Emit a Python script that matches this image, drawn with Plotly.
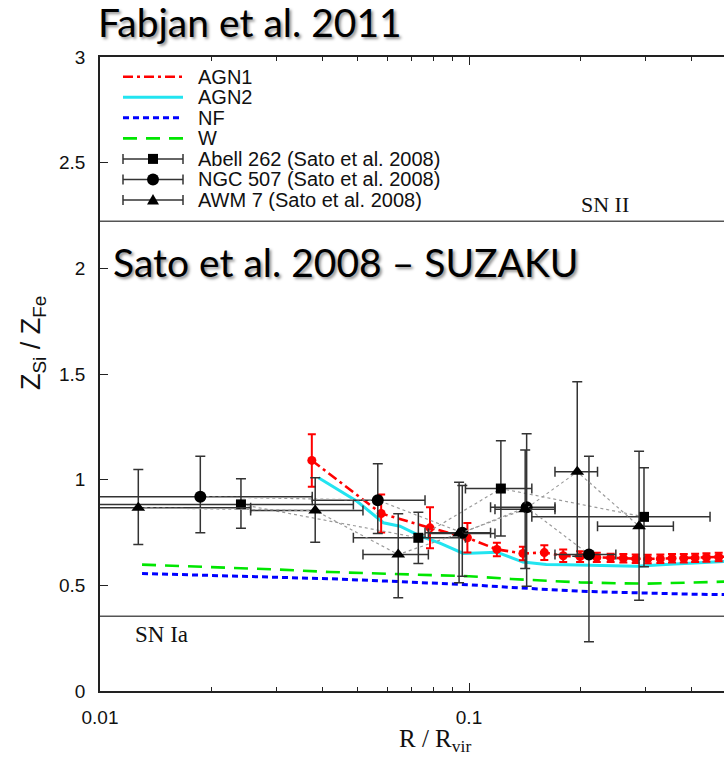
import plotly.graph_objects as go

# ---------------- data ----------------
# Abell 262 (Sato et al. 2008)  - squares
abell_x = [0.0241, 0.0729, 0.122, 0.298]
abell_y = [0.883, 0.725, 0.958, 0.824]
abell_ylo = [0.770, 0.603, 0.733, 0.588]
abell_yhi = [1.004, 0.846, 1.184, 1.056]
abell_xlo = [0.004, 0.0486, 0.0978, 0.148]
abell_xhi = [0.0486, 0.0978, 0.148, 0.450]

# NGC 507 (Sato et al. 2008) - circles
ngc_x = [0.0187, 0.0566, 0.0959, 0.1433, 0.2114]
ngc_y = [0.919, 0.903, 0.749, 0.870, 0.646]
ngc_ylo = [0.749, 0.745, 0.543, 0.496, 0.233]
ngc_yhi = [1.111, 1.075, 0.972, 1.217, 1.111]
ngc_xlo = [0.004, 0.0376, 0.076, 0.1144, 0.171]
ngc_xhi = [0.0376, 0.076, 0.1144, 0.171, 0.250]

# AWM 7 (Sato et al. 2008) - triangles
awm_x = [0.0127, 0.0383, 0.0643, 0.094, 0.142, 0.1965, 0.289]
awm_y = [0.867, 0.854, 0.646, 0.745, 0.860, 1.037, 0.780]
awm_ylo = [0.693, 0.704, 0.441, 0.512, 0.580, 0.638, 0.430]
awm_yhi = [1.048, 1.009, 0.839, 0.988, 1.140, 1.463, 1.135]
awm_xlo = [0.004, 0.0256, 0.0516, 0.0776, 0.1176, 0.171, 0.223]
awm_xhi = [0.0256, 0.0516, 0.0776, 0.1176, 0.171, 0.223, 0.358]

# AGN1 simulation (red, with error bars)
agn1_x = [0.0375, 0.0578, 0.0784, 0.0990, 0.119, 0.140, 0.160, 0.180, 0.200, 0.222,
          0.242, 0.262, 0.283, 0.305, 0.330, 0.355, 0.382, 0.410, 0.440, 0.475, 0.510]
agn1_y = [1.091, 0.840, 0.772, 0.725, 0.670, 0.651, 0.655, 0.640, 0.636, 0.632,
          0.630, 0.628, 0.626, 0.625, 0.626, 0.628, 0.628, 0.630, 0.632, 0.634, 0.637]
agn1_err = [0.124, 0.090, 0.097, 0.070, 0.032, 0.032, 0.035, 0.030, 0.025, 0.022,
            0.020, 0.020, 0.020, 0.020, 0.020, 0.020, 0.020, 0.020, 0.020, 0.020, 0.020]

# AGN2 simulation (cyan)
agn2_x = [0.0391, 0.0497, 0.0586, 0.065, 0.0738, 0.0834, 0.0965, 0.119, 0.140, 0.162,
          0.184, 0.220, 0.285, 0.350, 0.420, 0.490, 0.550]
agn2_y = [1.009, 0.898, 0.796, 0.780, 0.733, 0.700, 0.651, 0.657, 0.610, 0.599,
          0.597, 0.595, 0.590, 0.600, 0.608, 0.614, 0.617]

# NF and W simulations
model_x = [0.013, 0.02, 0.03, 0.042, 0.06, 0.08, 0.10, 0.13, 0.166, 0.20, 0.25, 0.30, 0.40, 0.55]
nf_y = [0.556, 0.548, 0.540, 0.531, 0.520, 0.510, 0.503, 0.490, 0.480, 0.472, 0.467, 0.463, 0.458, 0.455]
w_y = [0.598, 0.588, 0.575, 0.563, 0.555, 0.548, 0.543, 0.530, 0.520, 0.514, 0.510, 0.508, 0.513, 0.520]

# reference ratios
sn2_ratio = 2.223
sn1a_ratio = 0.354

y_ticks = [0, 0.5, 1, 1.5, 2, 2.5, 3]
y_ticktext = ["0", "0.5", "1", "1.5", "2", "2.5", "3"]
x_ticks = [0.01, 0.1]
x_ticktext = ["0.01", "0.1"]
x_minor = [0.02, 0.03, 0.04, 0.05, 0.06, 0.07, 0.08, 0.09, 0.2, 0.3, 0.4, 0.5]

legend_labels = ["AGN1", "AGN2", "NF", "W", "Abell 262 (Sato et al. 2008)",
                 "NGC 507 (Sato et al. 2008)", "AWM 7 (Sato et al. 2008)"]

# ---------------- layout geometry ----------------
W, H = 724, 760
ML, MT, MB = 100, 57, 69
PW, PH = W - ML, H - MT - MB
XR = [-2, -2 + PW / 369.0]


def px(x):
    return (x - ML) / PW


def py(y):
    return (H - MB - y) / PH


RED = "#ff0000"
CYAN = "#22e4f0"
BLUE = "#0000ff"
GREEN = "#00e600"
ERR = "#333333"
SANS = "Liberation Sans, Arial, sans-serif"
SERIF = "Liberation Serif, Times New Roman, serif"

fig = go.Figure()

fig.add_trace(go.Scatter(x=model_x, y=w_y, mode="lines",
                         line=dict(color=GREEN, width=2.6, dash="14px,9px")))
fig.add_trace(go.Scatter(x=model_x, y=nf_y, mode="lines",
                         line=dict(color=BLUE, width=3, dash="6px,4px")))
fig.add_trace(go.Scatter(x=agn2_x, y=agn2_y, mode="lines",
                         line=dict(color=CYAN, width=3)))
fig.add_trace(go.Scatter(x=agn1_x, y=agn1_y, mode="lines+markers",
                         line=dict(color=RED, width=2.6, dash="10px,4px,3px,4px"),
                         marker=dict(color=RED, size=9, symbol="circle"),
                         error_y=dict(type="data", array=agn1_err, color=RED,
                                      thickness=2, width=4)))


def obs_trace(xs, ys, ylo, yhi, xlo, xhi, symbol, size):
    return go.Scatter(
        x=xs, y=ys, mode="lines+markers",
        line=dict(color="#9a9a9a", width=1.2, dash="dot"),
        marker=dict(color="black", size=size, symbol=symbol),
        error_y=dict(type="data", symmetric=False,
                     array=[h - v for h, v in zip(yhi, ys)],
                     arrayminus=[v - l for l, v in zip(ylo, ys)],
                     color=ERR, thickness=1.5, width=5),
        error_x=dict(type="data", symmetric=False,
                     array=[h - v for h, v in zip(xhi, xs)],
                     arrayminus=[v - l for l, v in zip(xlo, xs)],
                     color=ERR, thickness=1.5, width=5),
    )


fig.add_trace(obs_trace(abell_x, abell_y, abell_ylo, abell_yhi, abell_xlo, abell_xhi, "square", 10))
fig.add_trace(obs_trace(ngc_x, ngc_y, ngc_ylo, ngc_yhi, ngc_xlo, ngc_xhi, "circle", 12))
fig.add_trace(obs_trace(awm_x, awm_y, awm_ylo, awm_yhi, awm_xlo, awm_xhi, "triangle-up", 12))

shapes = []
annotations = []

# SN reference lines
for v in (sn2_ratio, sn1a_ratio):
    shapes.append(dict(type="line", xref="paper", yref="y", x0=0, x1=1, y0=v, y1=v,
                       line=dict(color="#555555", width=1.6), layer="below"))

# manual legend
row_y = [76.7 + 20.55 * i for i in range(7)]
lx0, lx1, lxm, ltx = 123, 183, 153, 196
line_styles = [
    dict(color=RED, width=2.6, dash="10px,4px,3px,4px"),
    dict(color=CYAN, width=3),
    dict(color=BLUE, width=3, dash="6px,4px"),
    dict(color=GREEN, width=2.6, dash="14px,9px"),
]
for i, ry in enumerate(row_y):
    if i < 4:
        shapes.append(dict(type="line", xref="paper", yref="paper",
                           x0=px(lx0), x1=px(lx1), y0=py(ry), y1=py(ry), line=line_styles[i]))
    else:
        shapes.append(dict(type="line", xref="paper", yref="paper",
                           x0=px(lx0), x1=px(lx1), y0=py(ry), y1=py(ry),
                           line=dict(color=ERR, width=1.5)))
        for cx in (lx0, lx1):
            shapes.append(dict(type="line", xref="paper", yref="paper",
                               x0=px(cx), x1=px(cx), y0=py(ry - 5), y1=py(ry + 5),
                               line=dict(color=ERR, width=1.5)))
        base = dict(xref="paper", yref="paper", xsizemode="pixel", ysizemode="pixel",
                    xanchor=px(lxm), yanchor=py(ry), fillcolor="black",
                    line=dict(width=0))
        if i == 4:
            shapes.append(dict(type="rect", x0=-5, x1=5, y0=-5, y1=5, **base))
        elif i == 5:
            shapes.append(dict(type="circle", x0=-6, x1=6, y0=-6, y1=6, **base))
        else:
            shapes.append(dict(type="path", path="M-6,-4.5 L6,-4.5 L0,6 Z", **base))
    annotations.append(dict(text=legend_labels[i], xref="paper", yref="paper",
                            x=px(ltx), y=py(ry), xanchor="left", yanchor="middle",
                            showarrow=False, font=dict(family=SANS, size=20, color="#111")))

# texts
shadow = "2px 2px 3px rgba(0,0,0,0.45)"
annotations += [
    dict(text="Fabjan et al. 2011", xref="paper", yref="paper", x=px(96), y=py(22),
         xanchor="left", yanchor="middle", showarrow=False,
         font=dict(family="Lato, sans-serif", size=39, color="black", shadow=shadow)),
    dict(text="Sato et al. 2008 – SUZAKU", xref="paper", yref="paper", x=px(111), y=py(262),
         xanchor="left", yanchor="middle", showarrow=False,
         font=dict(family="Lato, sans-serif", size=39, color="black", shadow=shadow)),
    dict(text="SN II", xref="paper", yref="paper", x=px(605), y=py(204),
         xanchor="center", yanchor="middle", showarrow=False,
         font=dict(family=SERIF, size=22, color="#111")),
    dict(text="SN Ia", xref="paper", yref="paper", x=px(161), y=py(634),
         xanchor="center", yanchor="middle", showarrow=False,
         font=dict(family=SERIF, size=23, color="#111")),
    dict(text="R / R<sub>vir</sub>", xref="paper", yref="paper", x=px(435), y=py(740),
         xanchor="center", yanchor="middle", showarrow=False,
         font=dict(family=SERIF, size=25, color="#111")),
    dict(text="Z<sub>Si</sub> / Z<sub>Fe</sub>", xref="paper", yref="paper", x=px(33), y=py(343),
         xanchor="center", yanchor="middle", showarrow=False, textangle=-90,
         font=dict(family=SANS, size=27, color="#111")),
]

fig.update_layout(
    width=W, height=H, margin=dict(l=ML, r=0, t=MT, b=MB, autoexpand=False),
    paper_bgcolor="white", plot_bgcolor="white", showlegend=False,
    shapes=shapes, annotations=annotations,
    xaxis=dict(type="log", range=XR, tickmode="array", tickvals=x_ticks, ticktext=x_ticktext,
               ticks="inside", ticklen=8, tickwidth=1.3, tickcolor="#222",
               minor=dict(tickmode="array", tickvals=x_minor, ticks="inside", ticklen=4,
                          tickwidth=1.2, tickcolor="#222", showgrid=False),
               showline=True, linecolor="#222", linewidth=1.6, mirror="ticks",
               showgrid=False, zeroline=False, ticklabelstandoff=8,
               tickfont=dict(family=SANS, size=19, color="#111")),
    yaxis=dict(range=[0, 3], tickmode="array", tickvals=y_ticks, ticktext=y_ticktext,
               ticks="inside", ticklen=8, tickwidth=1.3, tickcolor="#222",
               showline=True, linecolor="#222", linewidth=1.6, mirror=False,
               showgrid=False, zeroline=False, ticklabelstandoff=9,
               tickfont=dict(family=SANS, size=19, color="#111")),
)

fig.write_html("out.html")
